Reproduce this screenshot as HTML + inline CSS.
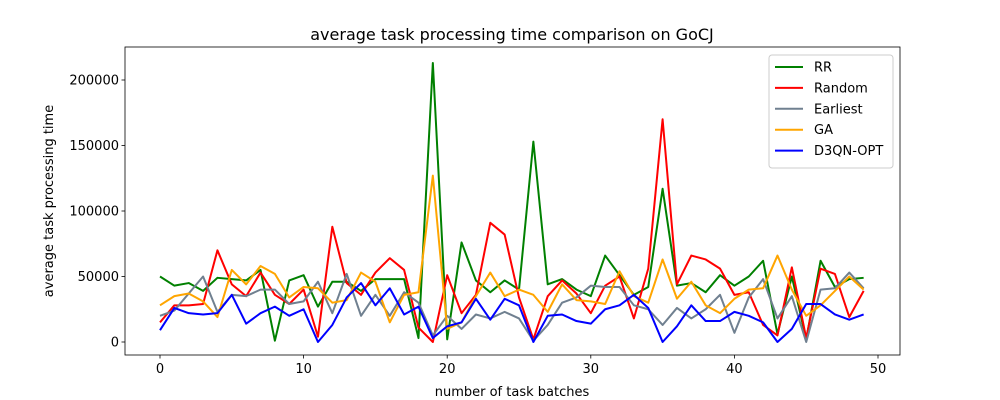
<!DOCTYPE html>
<html><head><meta charset="utf-8"><style>body{margin:0;background:#fff}svg{display:block;font-family:"DejaVu Sans","Liberation Sans",sans-serif}</style></head>
<body>
<svg id="chart" width="1000" height="400"></svg>
<script>
const xTicks=[0,10,20,30,40,50];
const yTicks=[0,50000,100000,150000,200000];
const seriesNames=["RR","Random","Earliest","GA","D3QN-OPT"];
const seriesColors=["green","red","slategray","orange","blue"];
const rr=[50,43,45,39,49,48,47,55,1,47,51,27,46,46,39,48,48,48,3,213,2,76,47,38,47,40,153,44,48,40,35,66,51,36,42,117,43,45,38,51,43,50,62,6,50,2,62,42,48,49];
const random=[15,28,28,29,70,44,35,53,36,29,40,4,88,45,36,53,64,55,11,0,51,22,36,91,82,34,2,35,47,37,22,43,50,18,56,170,44,66,63,56,36,38,13,5,57,3,56,52,19,39];
const earliest=[20,24,37,50,23,36,35,40,40,29,31,46,22,52,20,36,20,38,30,5,20,10,21,18,23,18,1,13,30,34,43,42,42,28,25,13,26,18,25,36,7,34,48,18,35,0,40,41,53,41];
const ga=[28,35,37,31,19,55,44,58,52,34,42,41,30,32,53,46,15,36,38,127,10,15,35,53,35,40,36,23,44,32,31,29,54,35,30,63,33,46,28,22,33,40,41,66,40,20,28,39,50,40];
const d3qn=[9,26,22,21,22,36,14,22,27,20,25,0,13,34,45,28,41,21,27,3,12,15,33,17,33,28,0,20,21,16,14,25,28,36,26,0,12,28,16,16,23,20,15,0,10,29,29,21,17,21];
const allSeries=[rr,random,earliest,ga,d3qn];
const L=125,R=900,T=47,B=355;
const xs=v=>160+(v/50)*(878-160);
const ys=v=>342-(v/200000)*(342-80);
const NS="http://www.w3.org/2000/svg";
const svg=document.getElementById('chart');
function mk(t,a,txt){const e=document.createElementNS(NS,t);for(const k in a)e.setAttribute(k,a[k]);if(txt!==undefined)e.textContent=txt;svg.appendChild(e);return e;}
let e;
e=mk('rect',{x:L,y:T,width:R-L,height:B-T,fill:'none',stroke:'#000','stroke-width':0.8});


xTicks.forEach(t=>{const x=xs(t);
e=mk('line',{x1:x,x2:x,y1:B,y2:B+3.5,stroke:'#000','stroke-width':0.8});


e=mk('text',{x:x,y:B+18,'font-size':13,'text-anchor':'middle'},String(t));

});
yTicks.forEach(t=>{const y=ys(t);
e=mk('line',{x1:L-3.5,x2:L,y1:y,y2:y,stroke:'#000','stroke-width':0.8});


e=mk('text',{x:L-6,y:y+4.5,'font-size':13,'text-anchor':'end'},String(t));

});
allSeries.forEach((s,i)=>{const pts=s.map((v,j)=>xs(j)+','+ys(v*1000)).join(' ');
e=mk('polyline',{points:pts,fill:'none',stroke:seriesColors[i],'stroke-width':2,'stroke-linejoin':'round'});

});
e=mk('text',{x:512,y:40,'font-size':16,'text-anchor':'middle'},'average task processing time comparison on GoCJ');


e=mk('text',{x:512,y:396,'font-size':13,'text-anchor':'middle'},'number of task batches');


e=mk('text',{x:53,y:201,'font-size':13,'text-anchor':'middle',transform:'rotate(-90 53 201)'},'average task processing time');


e=mk('rect',{x:769,y:55,width:124,height:113,fill:'#fff',stroke:'#ccc',rx:3});


seriesNames.forEach((n,i)=>{const y=67+i*20.9;
e=mk('line',{x1:775,x2:803,y1:y,y2:y,stroke:seriesColors[i],'stroke-width':2});


e=mk('text',{x:814,y:y+4.5,'font-size':13},n);

});
</script>
</body></html>
